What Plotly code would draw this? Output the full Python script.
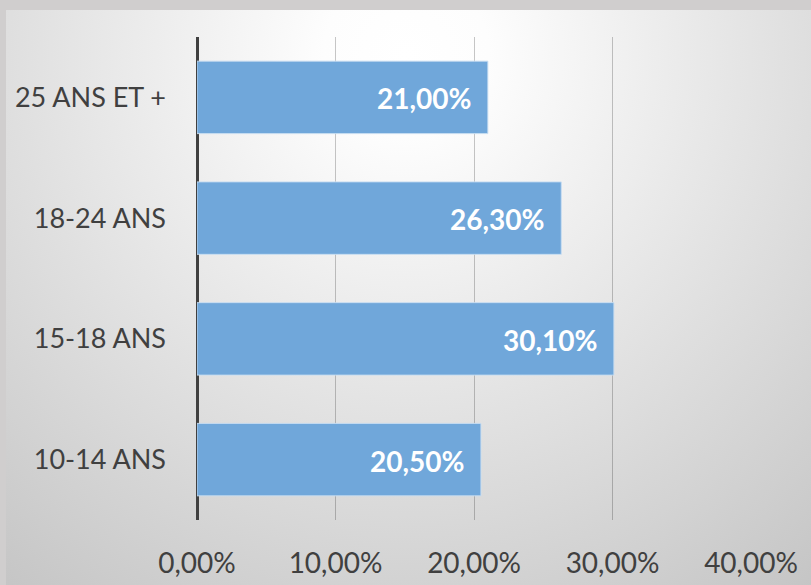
import plotly.graph_objects as go

# Age groups (bottom to top) and their shares
categories = ["10-14 ANS", "15-18 ANS", "18-24 ANS", "25 ANS ET +"]
shares = [0.205, 0.301, 0.263, 0.21]
x_ticks = [0.0, 0.1, 0.2, 0.3, 0.4]

W, H = 811, 585
bg_svg = (
    "data:image/svg+xml;utf8,"
    "<svg xmlns='http://www.w3.org/2000/svg' width='805' height='575' "
    "viewBox='0 0 805 575' preserveAspectRatio='none'>"
    "<defs><radialGradient id='g' gradientUnits='userSpaceOnUse' cx='400' cy='45' r='690'>"
    "<stop offset='0' stop-color='%23ffffff'/>"
    "<stop offset='0.12' stop-color='%23fdfdfd'/>"
    "<stop offset='1' stop-color='%23c3c3c3'/>"
    "</radialGradient></defs>"
    "<rect width='805' height='575' fill='url(%23g)'/></svg>"
)

fig = go.Figure()
fig.add_trace(go.Bar(
    y=categories,
    x=shares,
    orientation="h",
    marker=dict(color="rgb(112,167,218)",
                line=dict(color="rgba(200,222,242,0.9)", width=1)),
    width=0.6,
    hoverinfo="skip",
))

for c, v in zip(categories, shares):
    fig.add_annotation(
        x=v, y=c, xref="x", yref="y",
        text=f"<b>{v * 100:.2f}%</b>".replace(".", ","),
        showarrow=False, xanchor="right", xshift=-15, yshift=-1,
        font=dict(family="Lato", size=28, color="white"),
    )

fig.update_layout(
    width=W, height=H,
    margin=dict(l=0, r=0, t=0, b=0, autoexpand=False),
    paper_bgcolor="#d0cece",
    plot_bgcolor="rgba(0,0,0,0)",
    separators=",.",
    showlegend=False,
    images=[dict(
        source=bg_svg, xref="paper", yref="paper",
        x=6 / W, y=1 - 10 / H, sizex=1 - 6 / W, sizey=1 - 10 / H,
        xanchor="left", yanchor="top", sizing="stretch", layer="below",
    )],
    xaxis=dict(
        domain=[197 / W, 751 / W],
        range=[0, 0.4],
        automargin=False,
        tickvals=x_ticks,
        ticktext=[f"{t * 100:.2f}%".replace(".", ",") for t in x_ticks],
        showgrid=True, gridcolor="rgba(0,0,0,0.22)", gridwidth=1,
        zeroline=True, zerolinecolor="#404040", zerolinewidth=3,
        showline=False, ticks="",
        tickfont=dict(family="Lato", size=28, color="#404040"),
        ticklabelstandoff=24,
    ),
    yaxis=dict(
        domain=[(H - 520) / H, (H - 37) / H],
        automargin=False,
        showgrid=False, zeroline=False, showline=False, ticks="",
        tickfont=dict(family="Lato", size=27, color="#404040"),
        ticklabelstandoff=30,
    ),
)

fig.write_html("out.html")
